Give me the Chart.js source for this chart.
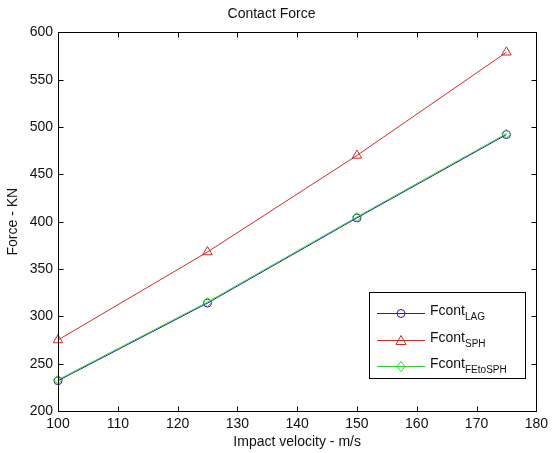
<!DOCTYPE html>
<html>
<head>
<meta charset="utf-8">
<script src="https://cdn.jsdelivr.net/npm/chart.js@4.4.0/dist/chart.umd.min.js"></script>
<style>
html, body { margin: 0; padding: 0; background: #fff; }
</style>
</head>
<body>
<canvas id="chart" width="553" height="453"></canvas>
<script>
// values
var velocity = [100, 125, 150, 175];
var fcontLAG = [232, 314, 404, 492];
var fcontSPH = [275, 368, 470, 579];
var fcontFEtoSPH = [233, 315, 405, 493];
var seriesNames = ['LAG', 'SPH', 'FEtoSPH'];
var xTicks = [100, 110, 120, 130, 140, 150, 160, 170, 180];
var yTicks = [200, 250, 300, 350, 400, 450, 500, 550, 600];

var blue = '#1f1fb4';
var red = '#d42a2a';
var green = '#2ed22e';
var fontFamily = '"Liberation Sans", Arial, sans-serif';

function pairs(ys) {
    var out = [];
    for (var i = 0; i < velocity.length; i++) {
        out.push({ x: velocity[i], y: ys[i] });
    }
    return out;
}

function marker(ctx, style, x, y, color) {
    ctx.strokeStyle = color;
    ctx.lineWidth = 1;
    ctx.beginPath();
    if (style === 'circle') {
        ctx.arc(x, y, 4, 0, Math.PI * 2);
    } else if (style === 'triangle') {
        ctx.moveTo(x, y - 5);
        ctx.lineTo(x + 5, y + 4);
        ctx.lineTo(x - 5, y + 4);
        ctx.closePath();
    } else {
        ctx.moveTo(x, y - 5);
        ctx.lineTo(x + 4, y);
        ctx.lineTo(x, y + 5);
        ctx.lineTo(x - 4, y);
        ctx.closePath();
    }
    ctx.stroke();
}

// box, inward ticks and the legend with subscripts
var matlabLook = {
    id: 'matlabLook',
    afterDraw: function (chart) {
        var ctx = chart.ctx;
        var a = chart.chartArea;
        var xs = chart.scales.x;
        var ys = chart.scales.y;
        ctx.save();
        ctx.strokeStyle = '#000';
        ctx.lineWidth = 1;
        ctx.beginPath();
        var L = Math.round(a.left) + 0.5, R = Math.round(a.right) + 0.5;
        var T = Math.round(a.top) + 0.5, B = Math.round(a.bottom) + 0.5;
        ctx.rect(L, T, R - L, B - T);
        xTicks.forEach(function (v) {
            var px = Math.round(xs.getPixelForValue(v)) + 0.5;
            ctx.moveTo(px, B); ctx.lineTo(px, B - 5);
            ctx.moveTo(px, T); ctx.lineTo(px, T + 5);
        });
        yTicks.forEach(function (v) {
            var py = Math.round(ys.getPixelForValue(v)) + 0.5;
            ctx.moveTo(L, py); ctx.lineTo(L + 5, py);
            ctx.moveTo(R, py); ctx.lineTo(R - 5, py);
        });
        ctx.stroke();

        // legend
        var bx = 369.5, by = 292.5, bw = 156, bh = 86;
        ctx.fillStyle = '#fff';
        ctx.fillRect(bx, by, bw, bh);
        ctx.strokeStyle = '#000';
        ctx.strokeRect(bx, by, bw, bh);
        var colors = [blue, red, green];
        var styles = ['circle', 'triangle', 'diamond'];
        var rows = [313, 340, 366];
        for (var i = 0; i < seriesNames.length; i++) {
            var ry = rows[i] + 0.5;
            ctx.strokeStyle = colors[i];
            ctx.beginPath();
            ctx.moveTo(377, ry);
            ctx.lineTo(425, ry);
            ctx.stroke();
            marker(ctx, styles[i], 401, ry, colors[i]);
            ctx.fillStyle = '#111';
            ctx.textAlign = 'left';
            ctx.textBaseline = 'middle';
            ctx.font = '14px ' + fontFamily;
            ctx.fillText('Fcont', 430, ry - 2);
            var w = ctx.measureText('Fcont').width;
            ctx.font = '10px ' + fontFamily;
            ctx.fillText(seriesNames[i], 430 + w, ry + 4);
        }
        ctx.restore();
    }
};

var ctx = document.getElementById('chart');
var chart = new Chart(ctx, {
    type: 'line',
    data: {
        datasets: [{
            label: 'Fcont' + seriesNames[0],
            data: pairs(fcontLAG),
            borderColor: blue,
            pointStyle: 'circle',
            pointRadius: 4,
            order: 3
        }, {
            label: 'Fcont' + seriesNames[1],
            data: pairs(fcontSPH),
            borderColor: red,
            pointStyle: 'triangle',
            pointRadius: 5.5,
            order: 2
        }, {
            label: 'Fcont' + seriesNames[2],
            data: pairs(fcontFEtoSPH),
            borderColor: green,
            pointStyle: 'rectRot',
            pointRadius: 4.5,
            order: 1
        }]
    },
    options: {
        responsive: false,
        animation: false,
        devicePixelRatio: 1,
        datasets: {
            line: {
                borderWidth: 1,
                pointBorderWidth: 1,
                pointBackgroundColor: 'rgba(0,0,0,0)',
                tension: 0,
                fill: false,
                clip: false
            }
        },
        layout: { padding: { top: 0, left: 0, right: 10, bottom: 0 } },
        plugins: {
            legend: { display: false },
            tooltip: { enabled: false },
            title: {
                display: true,
                text: 'Contact Force',
                color: '#111',
                font: { family: fontFamily, size: 14, weight: 'normal' },
                padding: { top: 6, bottom: 9.6 }
            }
        },
        scales: {
            x: {
                type: 'linear',
                min: 100,
                max: 180,
                afterBuildTicks: function (s) { s.ticks = xTicks.map(function (v) { return { value: v }; }); },
                afterFit: function (s) { s.height = 42; },
                grid: { display: false, drawTicks: false },
                border: { display: false },
                ticks: { color: '#111', padding: 5, font: { family: fontFamily, size: 14 }, maxRotation: 0 },
                title: {
                    display: true,
                    text: 'Impact velocity - m/s',
                    color: '#111',
                    font: { family: fontFamily, size: 14 },
                    padding: { top: 0, bottom: 2.6 }
                }
            },
            y: {
                min: 200,
                max: 600,
                afterBuildTicks: function (s) { s.ticks = yTicks.map(function (v) { return { value: v }; }); },
                afterFit: function (s) { s.width = 58; },
                grid: { display: false, drawTicks: false },
                border: { display: false },
                ticks: { color: '#111', padding: 5, font: { family: fontFamily, size: 14 } },
                title: {
                    display: true,
                    text: 'Force - KN',
                    color: '#111',
                    font: { family: fontFamily, size: 14 },
                    padding: { top: 4.6, bottom: 0 }
                }
            }
        }
    },
    plugins: [matlabLook]
});
</script>
</body>
</html>
